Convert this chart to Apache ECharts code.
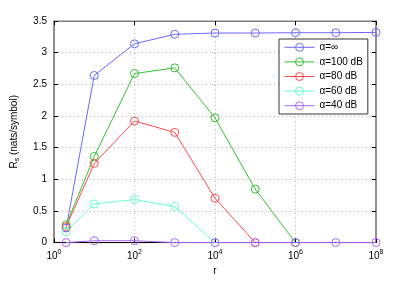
<!DOCTYPE html>
<html>
<head>
<meta charset="utf-8">
<script src="https://cdn.jsdelivr.net/npm/echarts@6/dist/echarts.min.js"></script>
<style>html,body{margin:0;padding:0;background:#fff}#c{width:415px;height:281px}</style>
</head>
<body>
<div id="c"></div>
<script>
var rValues = [2, 10, 100, 1000, 1e4, 1e5, 1e6, 1e7, 1e8];
var seriesNames = ['α=∞', 'α=100 dB', 'α=80 dB', 'α=60 dB', 'α=40 dB'];
var alphaInf = [0.23, 2.64, 3.14, 3.29, 3.31, 3.31, 3.315, 3.315, 3.32];
var alpha100 = [0.28, 1.36, 2.67, 2.76, 1.97, 0.845, 0];
var alpha80 = [0.25, 1.25, 1.92, 1.74, 0.70, 0];
var alpha60 = [0.17, 0.61, 0.68, 0.57, 0];
var alpha40 = [0, 0.03, 0.03, 0, 0, 0, 0, 0, 0];
var yTicks = ['0', '0.5', '1', '1.5', '2', '2.5', '3', '3.5'];
var colors = ['#6a6aff', '#33c033', '#ff4a4a', '#66ffcc', '#aa66ff'];

var allSeries = [alphaInf, alpha100, alpha80, alpha60, alpha40];
function pairs(v){ return v.map(function(y,i){ return [rValues[i], y]; }); }

var font = 'Liberation Sans, Arial, sans-serif';
var chart = echarts.init(document.getElementById('c'), null, {renderer:'canvas'});
var xCommon = {
  type: 'log', logBase: 10, min: 1, max: 1e8, interval: 2,
  axisLine: {show: true, onZero: false, lineStyle: {color: '#000', width: 1}},
  axisTick: {show: true, inside: true, length: 4, lineStyle: {color: '#000'}},
  minorTick: {show: false}
};
var yCommon = {
  type: 'value', min: 0, max: 3.5, interval: 0.5,
  axisLine: {show: true, lineStyle: {color: '#000', width: 1}},
  axisTick: {show: true, inside: true, length: 4, lineStyle: {color: '#000'}}
};
var option = {
  animation: false,
  color: colors,
  textStyle: {fontFamily: font},
  grid: {left: 54, right: 39, top: 21, bottom: 32, show: true, borderColor: '#808080', borderWidth: 1},
  legend: {
    data: seriesNames,
    orient: 'vertical',
    left: 279, top: 39,
    backgroundColor: '#fff',
    borderColor: '#333',
    borderWidth: 1,
    padding: [3.3, 5, 3.3, 5],
    itemWidth: 30, itemHeight: 10, itemGap: 4.6,
    itemStyle: {borderWidth: 1},
    lineStyle: {width: 1},
    textStyle: {fontSize: 10, color: '#000', fontFamily: font}
  },
  xAxis: [
    Object.assign({}, xCommon, {
      position: 'bottom',
      name: 'r', nameLocation: 'middle', nameGap: 21,
      nameTextStyle: {fontSize: 10, color: '#000'},
      axisLabel: {
        margin: 6,
        formatter: function(v){ return '{b|10}{s|' + Math.round(Math.log10(v)) + '}'; },
        rich: {b: {fontSize: 10, color: '#000'}, s: {fontSize: 7, color: '#000', padding: [0,0,8,0]}}
      },
      splitLine: {show: true, lineStyle: {color: '#b0b0b0', type: [1, 3], width: 1}}
    }),
    Object.assign({}, xCommon, {
      position: 'top',
      axisLabel: {show: false},
      splitLine: {show: false},
      axisLine: {show: true, onZero: false, lineStyle: {color: '#808080'}}
    })
  ],
  yAxis: [
    Object.assign({}, yCommon, {
      position: 'left',
      name: '{m|R}{u|s}{m| (nats/symbol)}', nameLocation: 'middle', nameGap: 33,
      nameTextStyle: {rich: {m: {fontSize: 10, color: '#000'}, u: {fontSize: 7, color: '#000', padding: [6,0,0,0]}}},
      axisLabel: {margin: 7, fontSize: 10, color: '#000', formatter: function(v){ return yTicks[Math.round(v*2)]; }},
      axisLine: {show: true, lineStyle: {color: '#808080', width: 1.5}},
      splitLine: {show: true, lineStyle: {color: '#b0b0b0', type: [1, 3], width: 1}}
    }),
    Object.assign({}, yCommon, {
      position: 'right',
      axisLabel: {show: false},
      splitLine: {show: false},
      axisLine: {show: true, lineStyle: {color: '#808080', width: 1.5}}
    })
  ],
  series: allSeries.map(function(v, i){
    return {
      name: seriesNames[i], type: 'line', data: pairs(v),
      xAxisIndex: 0, yAxisIndex: 0,
      symbol: 'circle', symbolSize: 8,
      lineStyle: {width: 1, color: colors[i]},
      itemStyle: {color: 'rgba(255,255,255,0)', borderColor: colors[i], borderWidth: 1},
      emphasis: {disabled: true}
    };
  })
};
chart.setOption(option);
</script>
</body>
</html>
